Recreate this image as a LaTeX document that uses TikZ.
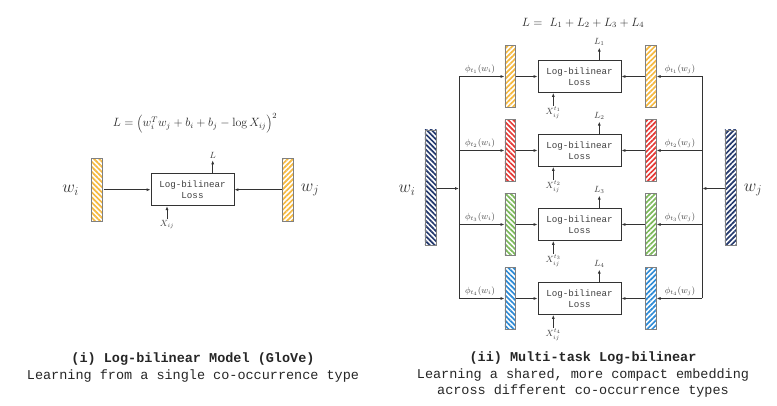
\documentclass[tikz,border=0pt]{standalone}
\usepackage{fontspec}
\setmonofont{Liberation Mono}
\usetikzlibrary{arrows.meta,patterns.meta}
\definecolor{cyel}{HTML}{F5B940}
\definecolor{cred}{HTML}{E53935}
\definecolor{cgrn}{HTML}{7CB95A}
\definecolor{cblu}{HTML}{2E8BD6}
\definecolor{cnav}{HTML}{253A6E}
\definecolor{cline}{HTML}{333333}
\definecolor{ctxt}{HTML}{404040}
\definecolor{cbord}{HTML}{808080}
\tikzset{
  wbar/.style={draw=cbord, line width=0.8pt, inner sep=0pt, minimum width=11pt, minimum height=63pt, preaction={fill=white}},
  sbar/.style={minimum width=10.7pt, minimum height=62.7pt},
  hat/.style 2 args={pattern={Lines[angle=#2,distance=3.6pt,line width=1.7pt]}, pattern color=#1},
  lbox/.style={draw=cline, line width=0.8pt, minimum width=83pt, minimum height=32pt, inner sep=0pt, font=\ttfamily\fontsize{9.2}{11.5}\selectfont, text=ctxt, align=center},
  conn/.style={draw=cline, line width=0.8pt, -{Latex[length=4pt,width=3pt]}},
  plain/.style={draw=cline, line width=0.8pt},
  slab/.style={text=ctxt, font=\fontsize{9}{10}\selectfont, inner sep=0pt},
  wlab/.style={text=black!80, font=\fontsize{18}{20}\selectfont, inner sep=0pt},
  eqlab/.style={text=black!85, font=\fontsize{12}{14}\selectfont, inner sep=0pt},
  captext/.style={text=black!85, font=\ttfamily\fontsize{13.5}{16.8}\selectfont, align=center, inner sep=0pt}
}
\begin{document}
\begin{tikzpicture}[x=1pt,y=-1pt]
\useasboundingbox (0,0) rectangle (777,406);
% ---------- (i) GloVe ----------
\node[wbar, hat={cyel}{-45}] (gl) at (97.2,189.7) {};
\node[wbar, hat={cyel}{45}] (gr) at (288.3,189.7) {};
\node[lbox] (gb) at (192.5,189.7) {Log-bilinear\\Loss};
\draw[conn] (gl.east) -- (gb.west);
\draw[conn] (gr.west) -- (gb.east);
\node[slab] (gL) at (212.7,155) {$L$};
\draw[conn, shorten >=2pt] (gb.north -| gL) -- (gL.south);
\node[slab] (gX) at (167,225) {$X_{ij}$};
\draw[conn, shorten <=2pt] (gX.north) -- (gb.south -| gX);
\node[eqlab] (geq) at (195,123) {$L=\left(w_i^{T}w_j+b_i+b_j-\log X_{ij}\right)^2$};
\node[wlab] (gwi) at (70.7,190) {$w_i$};
\node[wlab] (gwj) at (310,190) {$w_j$};
\node[captext] (c1) at (193,367.2) {\textbf{(i) Log-bilinear Model (GloVe)}\\Learning from a single co-occurrence type};
% ---------- (ii) Multi-task ----------
\node[eqlab] (meq) at (583,23) {$L=\ L_1+L_2+L_3+L_4$};
\foreach \k/\c/\a/\yy in {1/cyel/45/76.5, 2/cred/-45/150.5, 3/cgrn/-45/224.5, 4/cblu/-45/298.5} {
  \node[wbar, sbar, hat={\c}{\a}] (l\k) at (510.3,\yy) {};
  \node[wbar, sbar, hat={\c}{45}] (r\k) at (650.8,\yy) {};
  \node[lbox] (b\k) at (579.5,\yy) {Log-bilinear\\Loss};
  \node[slab] (L\k) at (599.3,\yy-34.7) {$L_{\k}$};
  \node[slab] (X\k) at (553.3,\yy+36.3) {$X_{ij}^{t_{\k}}$};
  \node[slab, anchor=south] (pl\k) at (480,\yy-2.5) {$\phi_{t_{\k}}(w_i)$};
  \node[slab, anchor=south] (pr\k) at (680,\yy-2.5) {$\phi_{t_{\k}}(w_j)$};
  \coordinate (tl\k) at (459,\yy);
  \coordinate (tr\k) at (702.3,\yy);
  \draw[conn] (tl\k) -- (l\k.west);
  \draw[conn] (l\k.east) -- (b\k.west);
  \draw[conn] (tr\k) -- (r\k.east);
  \draw[conn] (r\k.west) -- (b\k.east);
  \draw[conn, shorten >=2pt] (b\k.north -| L\k) -- (L\k.south);
  \draw[conn, shorten <=1pt] (X\k.north) -- (b\k.south -| X\k);
}
\draw[plain] (tl1) -- (tl4);
\draw[plain] (tr1) -- (tr4);
\node[wbar, minimum width=11.7pt, minimum height=115pt, hat={cnav}{-45}] (bl) at (430.8,187.5) {};
\node[wbar, minimum width=11.7pt, minimum height=115pt, hat={cnav}{45}] (br) at (730.8,187.5) {};
\coordinate (tlm) at (459,188.5);
\coordinate (trm) at (702.3,188.5);
\draw[conn] (bl.east |- tlm) -- (tlm);
\draw[conn] (br.west |- trm) -- (trm);
\node[wlab] (mwi) at (407,190) {$w_i$};
\node[wlab] (mwj) at (753,190) {$w_j$};
\node[captext] (c2) at (583,374.7) {\textbf{(ii) Multi-task Log-bilinear}\\Learning a shared, more compact embedding\\across different co-occurrence types};
\end{tikzpicture}
\end{document}
